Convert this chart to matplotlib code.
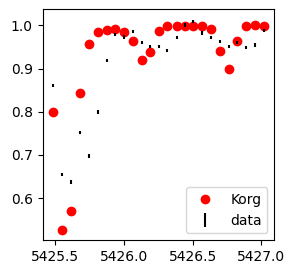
import numpy as np
import matplotlib
matplotlib.use("Agg")
import matplotlib.pyplot as plt

# wavelengths (Angstrom)
wl = np.array([5425.486, 5425.551, 5425.618, 5425.683, 5425.748, 5425.813,
               5425.876, 5425.938, 5426.003, 5426.066, 5426.131, 5426.189,
               5426.254, 5426.317, 5426.384, 5426.447, 5426.506, 5426.571,
               5426.634, 5426.699, 5426.764, 5426.824, 5426.889, 5426.954,
               5427.017])

# synthetic flux from Korg
korg = np.array([0.800, 0.527, 0.570, 0.843, 0.958, 0.984, 0.990, 0.991,
                 0.984, 0.965, 0.921, 0.938, 0.988, 0.998, 0.998, 0.998,
                 0.998, 0.998, 0.991, 0.940, 0.900, 0.965, 0.998, 1.000,
                 0.998])

# observed flux
obs = np.array([0.861, 0.655, 0.637, 0.752, 0.697, 0.799, 0.919, 0.979,
                0.973, 0.986, 0.961, 0.951, 0.951, 0.942, 0.972, 1.001,
                1.009, 0.982, 0.972, 0.963, 0.951, 0.961, 0.949, 0.955,
                0.988])
obs_err = np.full(len(obs), 0.004)

fig = plt.figure(figsize=(2.94, 2.74), dpi=100)
ax = fig.add_axes([0.145, 0.124, 0.788, 0.842])
ax.plot(wl, korg, 'ro', label='Korg')
ax.errorbar(wl, obs, yerr=obs_err, fmt='none', color='k', label='data')
ax.legend(loc='lower right')
fig.savefig('out.png', dpi=100)
